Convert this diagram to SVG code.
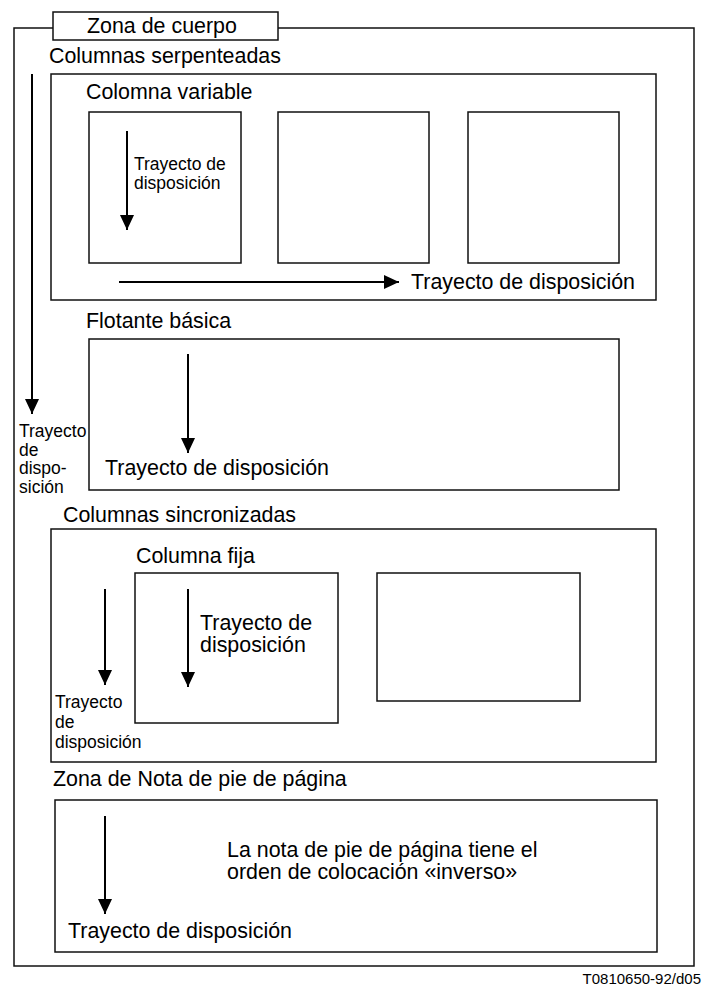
<svg xmlns="http://www.w3.org/2000/svg" width="702" height="987" viewBox="0 0 702 987">
<style>
  .box { fill: none; stroke: #111; stroke-width: 1.5; }
  .title { fill: #fff; stroke: #111; stroke-width: 1.5; }
  .t { font-family: "Liberation Sans", Arial, sans-serif; font-size: 21.4px; fill: #000; }
  .s { font-family: "Liberation Sans", Arial, sans-serif; font-size: 17.5px; fill: #000; }
  .id { font-family: "Liberation Sans", Arial, sans-serif; font-size: 15px; fill: #000; }
  .arrow { stroke: #000; stroke-width: 2; fill: none; marker-end: url(#head); }
</style>
<defs>
  <marker id="head" markerUnits="userSpaceOnUse" markerWidth="15" markerHeight="14" refX="15" refY="7" orient="auto">
    <path d="M0,0 L15,7 L0,14 z" fill="#000"/>
  </marker>
</defs>
<rect width="702" height="987" fill="#fff"/>

<g id="zona-cuerpo">
  <rect class="box" x="14" y="28" width="680" height="938"/>
  <rect class="title" x="53" y="12" width="225" height="28"/>
  <text class="t" x="87" y="33">Zona de cuerpo</text>
</g>

<g id="columnas-serpenteadas">
  <text class="t" x="49" y="63">Columnas serpenteadas</text>
  <rect class="box" x="51" y="74" width="605" height="226"/>
  <text class="t" x="86" y="99">Colomna variable</text>
</g>
<g id="columna-1">
  <rect class="box" x="89" y="112" width="152" height="151"/>
  <text class="s" x="134" y="170">Trayecto de</text>
  <text class="s" x="134" y="189">disposición</text>
</g>
<g id="columna-2">
  <rect class="box" x="278" y="112" width="151" height="151"/>
</g>
<g id="columna-3">
  <rect class="box" x="468" y="112" width="151" height="151"/>
</g>
<g id="serp-label">
  <text class="t" x="411" y="289">Trayecto de disposición</text>
</g>

<g id="left-label">
  <text class="s" x="19" y="437">Trayecto</text>
  <text class="s" x="19" y="455.5">de</text>
  <text class="s" x="19" y="474">dispo-</text>
  <text class="s" x="19" y="492.5">sición</text>
</g>

<g id="flotante-basica">
  <text class="t" x="86" y="328">Flotante básica</text>
  <rect class="box" x="89" y="339" width="530" height="151"/>
  <text class="t" x="105" y="475">Trayecto de disposición</text>
</g>

<g id="columnas-sincronizadas">
  <text class="t" x="63" y="522">Columnas sincronizadas</text>
  <rect class="box" x="51" y="529" width="605" height="233"/>
  <text class="s" x="55" y="708">Trayecto</text>
  <text class="s" x="55" y="728">de</text>
  <text class="s" x="55" y="748">disposición</text>
</g>
<g id="columna-fija">
  <text class="t" x="136" y="563">Columna fija</text>
  <rect class="box" x="135" y="573" width="203" height="150"/>
  <text class="t" x="200" y="630">Trayecto de</text>
  <text class="t" x="200" y="652">disposición</text>
</g>
<g id="columna-fija-2">
  <rect class="box" x="377" y="573" width="203" height="128"/>
</g>

<g id="zona-nota">
  <text class="t" x="53" y="786">Zona de Nota de pie de página</text>
  <rect class="box" x="55" y="800" width="602" height="152"/>
  <text class="t" x="227" y="857">La nota de pie de página tiene el</text>
  <text class="t" x="227" y="879">orden de colocación «inverso»</text>
  <text class="t" x="68" y="938">Trayecto de disposición</text>
</g>

<g id="ref">
  <text class="id" x="701" y="984" text-anchor="end">T0810650-92/d05</text>
</g>

<g id="connectors">
  <line class="arrow" x1="127" y1="131" x2="127" y2="230"/>
  <line class="arrow" x1="119" y1="282" x2="399" y2="282"/>
  <line class="arrow" x1="32" y1="74" x2="32" y2="414"/>
  <line class="arrow" x1="188" y1="354" x2="188" y2="453"/>
  <line class="arrow" x1="105" y1="589" x2="105" y2="685"/>
  <line class="arrow" x1="188" y1="589" x2="188" y2="687"/>
  <line class="arrow" x1="105" y1="816" x2="105" y2="914"/>
</g>
</svg>
